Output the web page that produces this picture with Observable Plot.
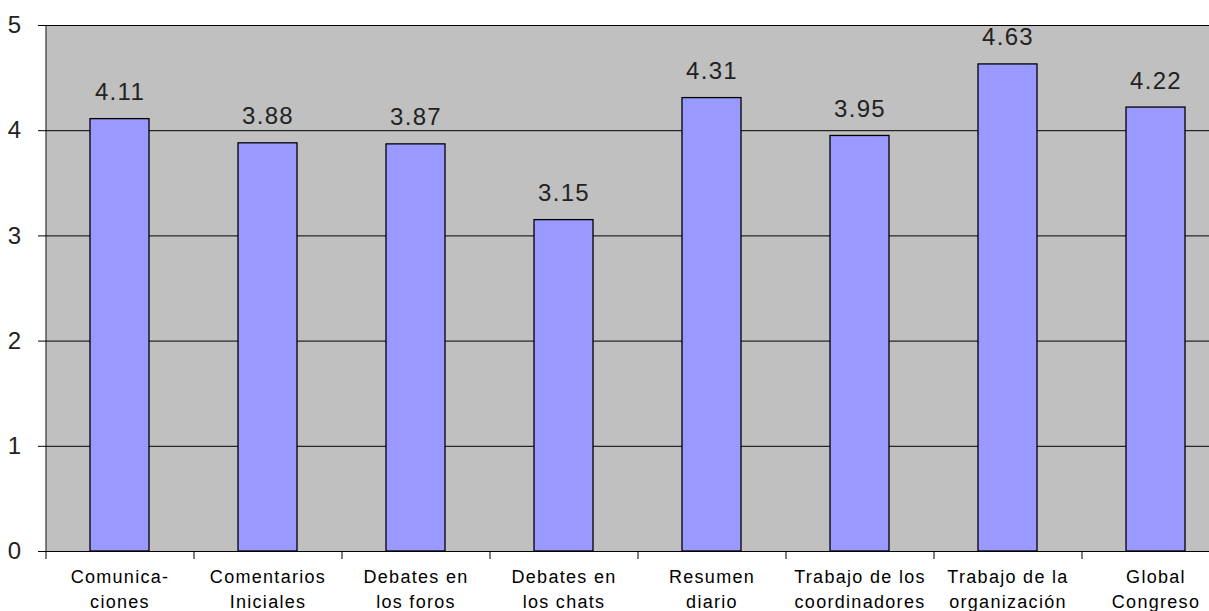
<!DOCTYPE html>
<html>
<head>
<meta charset="utf-8">
<script src="https://cdn.jsdelivr.net/npm/d3@7"></script>
<script src="https://cdn.jsdelivr.net/npm/@observablehq/plot@0.6"></script>
<style>
  html, body { margin: 0; padding: 0; background: #fff; overflow: hidden; }
  #chart svg text { letter-spacing: 1.3px; }
</style>
</head>
<body>
<div id="chart"></div>
<script>
const categories = [
  "Comunica-\nciones",
  "Comentarios\nIniciales",
  "Debates en\nlos foros",
  "Debates en\nlos chats",
  "Resumen\ndiario",
  "Trabajo de los\ncoordinadores",
  "Trabajo de la\norganización",
  "Global\nCongreso"
];
const values = [4.11, 3.88, 3.87, 3.15, 4.31, 3.95, 4.63, 4.22];
const yTicks = [0, 1, 2, 3, 4, 5];

const data = categories.map((c, i) => ({category: c, value: values[i]}));

const chart = Plot.plot({
  width: 1209,
  height: 611,
  marginLeft: 46,
  marginTop: 25,
  marginBottom: 60,
  marginRight: -21,
  style: {background: "#ffffff", color: "#000", fontFamily: "'Liberation Sans', Arial, sans-serif", overflow: "hidden"},
  x: {domain: categories, paddingInner: 0.6, paddingOuter: 0.3, label: null},
  y: {domain: [0, 5], label: null},
  marks: [
    Plot.frame({fill: "#c0c0c0", stroke: "none"}),
    Plot.gridY(yTicks, {stroke: "#000", strokeOpacity: 1, strokeWidth: 1}),
    Plot.barY(data, {x: "category", y: "value", fill: "#9999ff", stroke: "#000", strokeWidth: 1.3}),
    Plot.text(data, {
      x: "category", y: "value",
      text: d => d.value.toFixed(2),
      lineAnchor: "bottom", dy: -19,
      fontSize: 24, fill: "#222"
    }),
    Plot.ruleX([0], {x: () => categories[0], dx: -74, stroke: "#000"}),
    Plot.axisY(yTicks, {tickSize: 8, tickPadding: 16, fontSize: 24, tickFormat: d3.format("d"), label: null, stroke: "#000", fill: "#222"}),
    Plot.ruleY([0], {stroke: "#000", insetLeft: -8}),
    Plot.axisX({tickSize: 8, dx: -74, fill: "none", label: null, stroke: "#000"}),
    Plot.axisX({tickSize: 0, tickPadding: 13, fontSize: 18, lineHeight: 1.42, label: null, fill: "#000"})
  ]
});
document.getElementById("chart").append(chart);
</script>
</body>
</html>
